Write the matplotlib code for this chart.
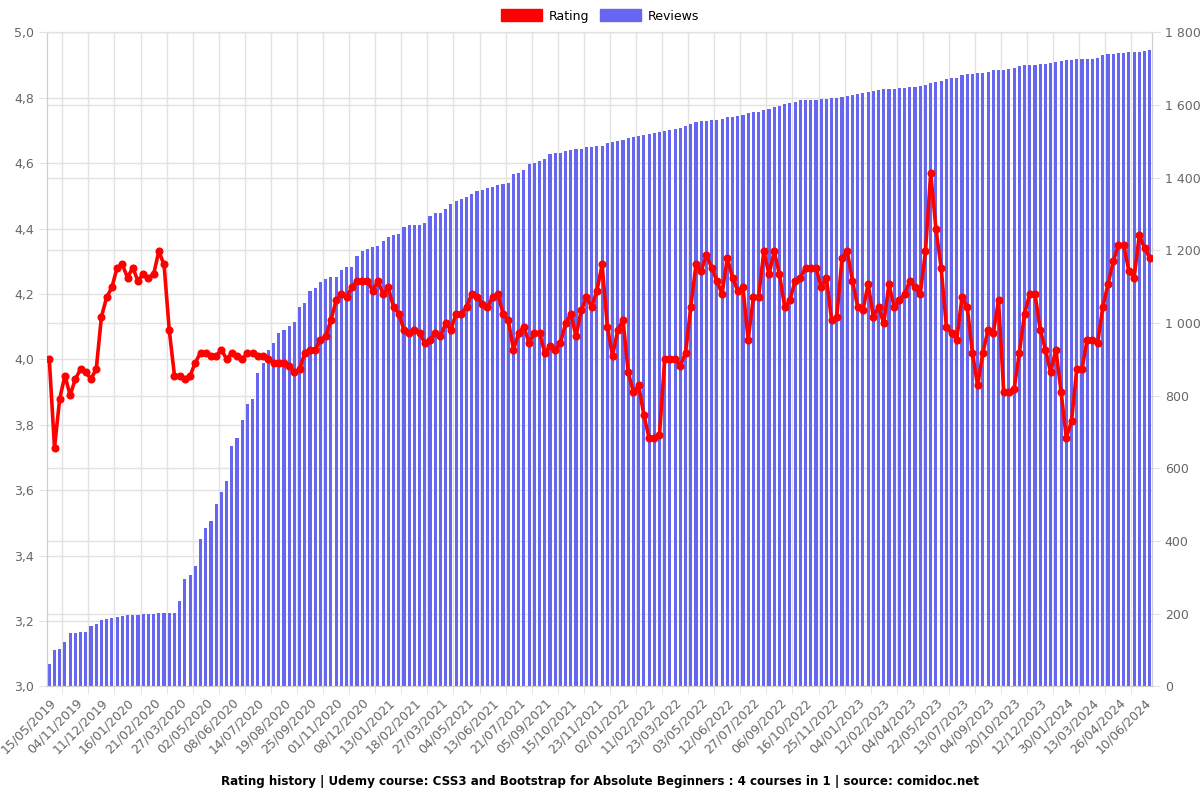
import matplotlib
matplotlib.use('Agg')
import matplotlib.pyplot as plt
import numpy as np
from matplotlib.patches import Patch
from matplotlib.transforms import blended_transform_factory

# rating history (one point per snapshot)
rating = [
    4.00, 3.73, 3.88, 3.95, 3.89, 3.94, 3.97, 3.96, 3.94, 3.97,
    4.13, 4.19, 4.22, 4.28, 4.29, 4.25, 4.28, 4.24, 4.26, 4.25,
    4.26, 4.33, 4.29, 4.09, 3.95, 3.95, 3.94, 3.95, 3.99, 4.02,
    4.02, 4.01, 4.01, 4.03, 4.00, 4.02, 4.01, 4.00, 4.02, 4.02,
    4.01, 4.01, 4.00, 3.99, 3.99, 3.99, 3.98, 3.96, 3.97, 4.02,
    4.03, 4.03, 4.06, 4.07, 4.12, 4.18, 4.20, 4.19, 4.22, 4.24,
    4.24, 4.24, 4.21, 4.24, 4.20, 4.22, 4.16, 4.14, 4.09, 4.08,
    4.09, 4.08, 4.05, 4.06, 4.08, 4.07, 4.11, 4.09, 4.14, 4.14,
    4.16, 4.20, 4.19, 4.17, 4.16, 4.19, 4.20, 4.14, 4.12, 4.03,
    4.08, 4.10, 4.05, 4.08, 4.08, 4.02, 4.04, 4.03, 4.05, 4.11,
    4.14, 4.07, 4.15, 4.19, 4.16, 4.21, 4.29, 4.10, 4.01, 4.09,
    4.12, 3.96, 3.90, 3.92, 3.83, 3.76, 3.76, 3.77, 4.00, 4.00,
    4.00, 3.98, 4.02, 4.16, 4.29, 4.27, 4.32, 4.28, 4.24, 4.20,
    4.31, 4.25, 4.21, 4.22, 4.06, 4.19, 4.19, 4.33, 4.26, 4.33,
    4.26, 4.16, 4.18, 4.24, 4.25, 4.28, 4.28, 4.28, 4.22, 4.25,
    4.12, 4.13, 4.31, 4.33, 4.24, 4.16, 4.15, 4.23, 4.13, 4.16,
    4.11, 4.23, 4.16, 4.18, 4.20, 4.24, 4.22, 4.20, 4.33, 4.57,
    4.40, 4.28, 4.10, 4.08, 4.06, 4.19, 4.16, 4.02, 3.92, 4.02,
    4.09, 4.08, 4.18, 3.90, 3.90, 3.91, 4.02, 4.14, 4.20, 4.20,
    4.09, 4.03, 3.96, 4.03, 3.90, 3.76, 3.81, 3.97, 3.97, 4.06,
    4.06, 4.05, 4.16, 4.23, 4.30, 4.35, 4.35, 4.27, 4.25, 4.38,
    4.34, 4.31,
]

# cumulative number of reviews
reviews = [
    62, 100, 104, 121, 147, 147, 150, 150, 166, 171,
    183, 185, 188, 192, 193, 195, 196, 197, 199, 200,
    200, 201, 201, 202, 202, 234, 294, 307, 332, 406,
    437, 456, 503, 536, 565, 662, 683, 734, 777, 791,
    862, 890, 925, 944, 973, 980, 992, 1004, 1044, 1054,
    1087, 1096, 1112, 1122, 1127, 1127, 1147, 1153, 1153, 1184,
    1199, 1205, 1210, 1213, 1227, 1237, 1243, 1246, 1265, 1269,
    1270, 1270, 1274, 1295, 1304, 1304, 1313, 1327, 1336, 1341,
    1348, 1356, 1362, 1365, 1371, 1375, 1379, 1382, 1385, 1409,
    1414, 1420, 1437, 1440, 1446, 1452, 1464, 1467, 1469, 1474,
    1477, 1478, 1480, 1483, 1485, 1487, 1487, 1495, 1498, 1501,
    1504, 1510, 1513, 1516, 1518, 1520, 1523, 1526, 1529, 1530,
    1535, 1538, 1542, 1547, 1554, 1556, 1556, 1558, 1559, 1562,
    1567, 1568, 1570, 1572, 1579, 1581, 1581, 1585, 1590, 1595,
    1597, 1602, 1605, 1608, 1613, 1613, 1613, 1614, 1616, 1617,
    1619, 1620, 1623, 1625, 1627, 1629, 1633, 1637, 1638, 1640,
    1643, 1643, 1645, 1646, 1648, 1649, 1650, 1652, 1655, 1660,
    1662, 1666, 1671, 1673, 1673, 1682, 1684, 1684, 1687, 1689,
    1692, 1695, 1695, 1697, 1700, 1703, 1707, 1710, 1710, 1710,
    1712, 1712, 1715, 1717, 1721, 1724, 1724, 1726, 1726, 1726,
    1727, 1730, 1737, 1739, 1741, 1742, 1743, 1746, 1747, 1747,
    1748, 1751,
]

# labels shown on the x axis (every 5th snapshot)
tick_labels = [
    '15/05/2019', '04/11/2019', '11/12/2019', '16/01/2020', '21/02/2020',
    '27/03/2020', '02/05/2020', '08/06/2020', '14/07/2020', '19/08/2020',
    '25/09/2020', '01/11/2020', '08/12/2020', '13/01/2021', '18/02/2021',
    '27/03/2021', '04/05/2021', '13/06/2021', '21/07/2021', '05/09/2021',
    '15/10/2021', '23/11/2021', '02/01/2022', '11/02/2022', '23/03/2022',
    '03/05/2022', '12/06/2022', '27/07/2022', '06/09/2022', '16/10/2022',
    '25/11/2022', '04/01/2023', '12/02/2023', '04/04/2023', '22/05/2023',
    '13/07/2023', '04/09/2023', '20/10/2023', '12/12/2023', '30/01/2024',
    '13/03/2024', '26/04/2024', '10/06/2024',
]
label_step = 5

title = ('Rating history | Udemy course: CSS3 and Bootstrap for Absolute '
         'Beginners : 4 courses in 1 | source: comidoc.net')

grid_color = '#e2e2e2'
axis_color = '#cfcfcf'
text_color = '#666666'
bar_color = '#6666f0'

n = len(rating)
x = np.arange(n)
tick_pos = x[::label_step]

fig = plt.figure(figsize=(12, 8), dpi=100)
ax_b = fig.add_axes([0.0389, 0.1421, 0.9214, 0.8175])
ax_r = ax_b.twinx()
ax_r.set_zorder(ax_b.get_zorder() + 1)
ax_r.patch.set_visible(False)

# reviews on the right axis, drawn first
ax_b.bar(x, reviews, width=0.6, color=bar_color, zorder=2)
ax_b.set_ylim(0, 1800)
ax_b.set_xlim(-0.5, n - 0.5)
ax_b.yaxis.tick_right()
ax_b.set_yticks(np.arange(0, 1801, 200))
ax_b.set_yticklabels([f'{v:,}'.replace(',', ' ') for v in range(0, 1801, 200)])
ax_b.grid(axis='y', color=grid_color, lw=1, zorder=0)

# rating axis on the left
ax_r.plot(x, rating, color='red', lw=2.6, marker='o', ms=4.8, zorder=3)
ax_r.set_ylim(3.0, 5.0)
ax_r.yaxis.tick_left()
r_ticks = np.round(np.arange(3.0, 5.01, 0.2), 1)
ax_r.set_yticks(r_ticks)
ax_r.set_yticklabels([f'{v:.1f}'.replace('.', ',') for v in r_ticks])

# rating grid lines live under the bars
trans = blended_transform_factory(ax_b.transAxes, ax_r.transData)
for r in r_ticks:
    ax_b.plot([0, 1], [r, r], transform=trans, color=grid_color, lw=1, zorder=0)

# x labels at every 5th point, grid lines halfway between them
ax_b.set_xticks(tick_pos)
ax_b.set_xticklabels(tick_labels, rotation=45, ha='right', rotation_mode='anchor')
ax_b.set_xticks(tick_pos[1:] - label_step / 2, minor=True)
ax_b.grid(axis='x', which='minor', color=grid_color, lw=1, zorder=0)
ax_b.tick_params(axis='x', which='major', length=0, pad=7, labelsize=9, labelcolor=text_color)
ax_b.tick_params(axis='x', which='minor', length=6, color=grid_color)
ax_b.tick_params(axis='y', length=6, color=grid_color, pad=3, labelsize=9, labelcolor=text_color)
ax_r.tick_params(axis='y', length=6, color=grid_color, pad=3, labelsize=9, labelcolor=text_color)

for a in (ax_b, ax_r):
    for side in ('left', 'right', 'bottom'):
        a.spines[side].set_color(axis_color)
    a.spines['top'].set_color(grid_color)

handles = [Patch(facecolor='red', edgecolor='red'), Patch(facecolor=bar_color, edgecolor=bar_color)]
fig.legend(handles, ['Rating', 'Reviews'], loc='center', bbox_to_anchor=(0.5, 1 - 16 / 800),
           ncol=2, frameon=False, fontsize=9, handlelength=3.3, handleheight=1.1,
           handletextpad=0.5, columnspacing=0.9)

fig.text(0.5, 1 - 782 / 800, title, ha='center', va='center', fontsize=8.6, fontweight='bold')

fig.savefig('out.png', dpi=100)
